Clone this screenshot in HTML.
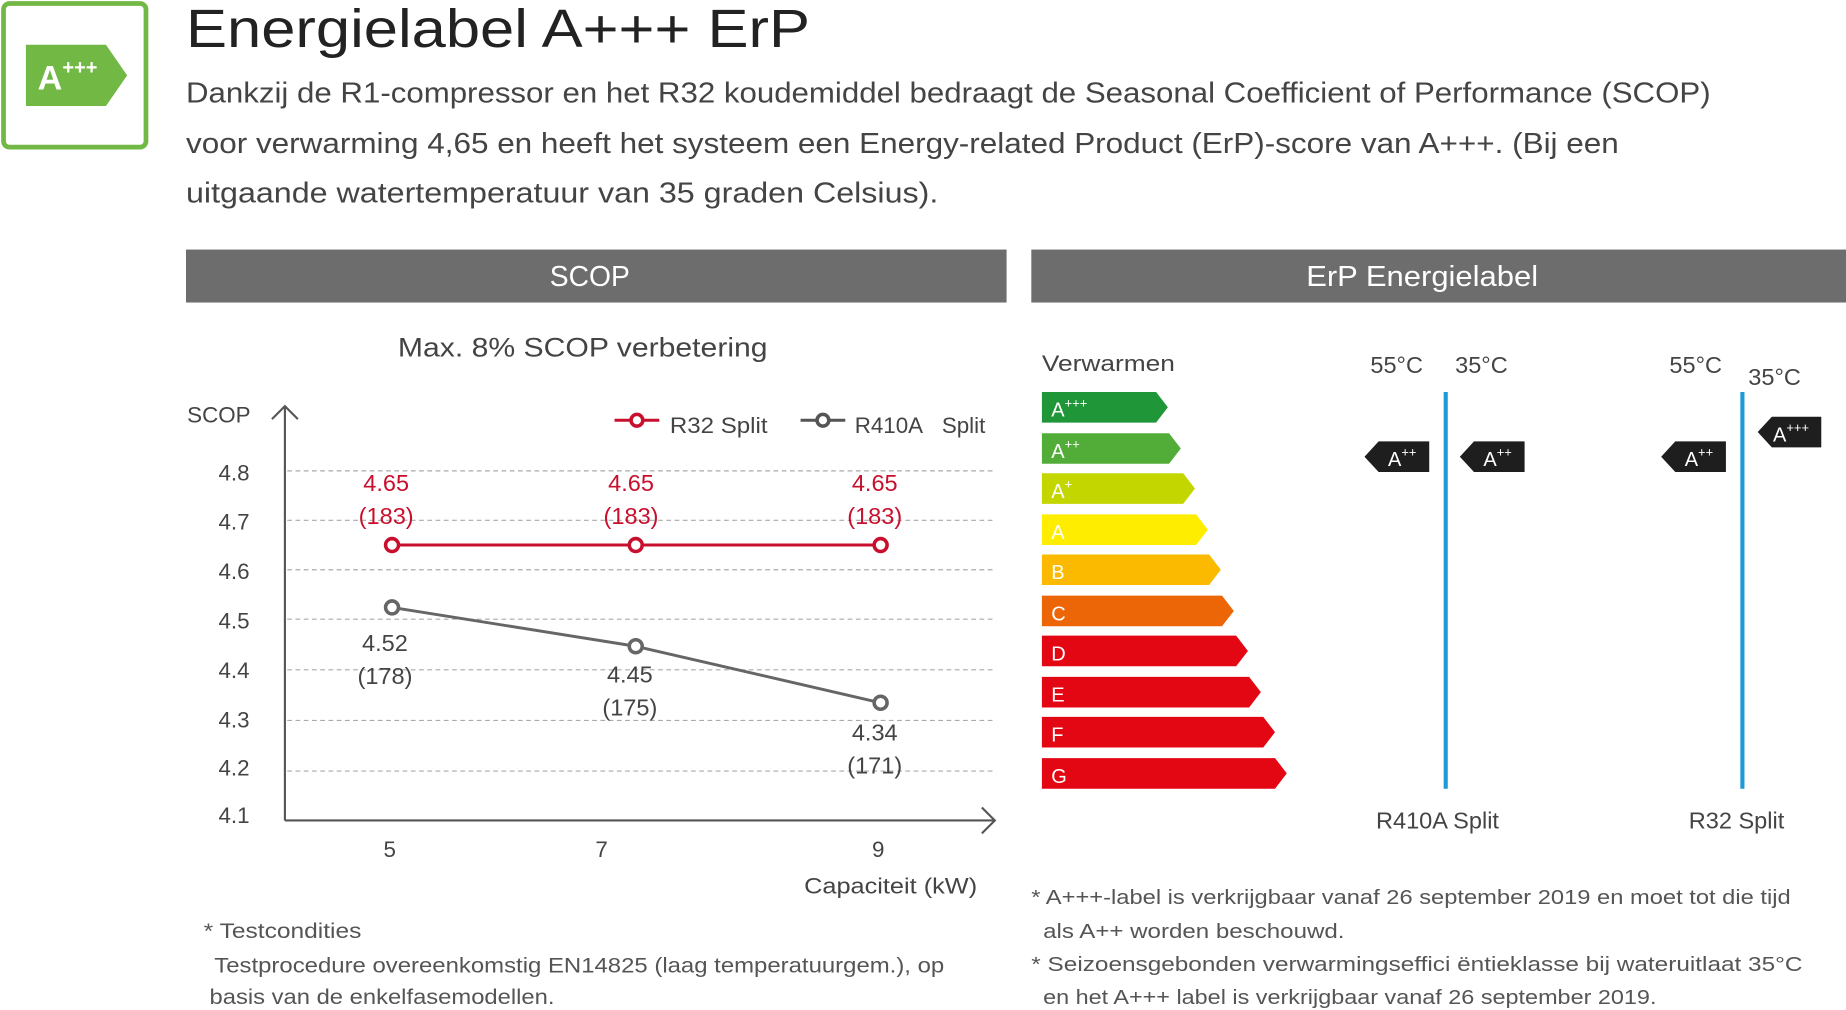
<!DOCTYPE html>
<html><head><meta charset="utf-8"><style>
html,body{margin:0;padding:0;background:#fff;width:1846px;height:1010px;overflow:hidden}
svg{display:block}
text{font-family:"Liberation Sans","DejaVu Sans",sans-serif}
</style></head><body>
<svg width="1846" height="1010" viewBox="0 0 1568 858" preserveAspectRatio="none" xmlns="http://www.w3.org/2000/svg">
<rect x="3" y="3" width="121" height="122" rx="5" fill="none" stroke="#72b844" stroke-width="4"/>
<polygon points="22,38 90,38 108,64 90,90 22,90" fill="#72b844"/>
<text x="32" y="76" fill="#fff" font-size="29" font-weight="bold">A</text>
<text x="53" y="63" fill="#fff" font-size="17" font-weight="bold">+++</text>
<text x="158" y="40" fill="#222" font-size="46" textLength="530" lengthAdjust="spacingAndGlyphs">Energielabel A+++ ErP</text>
<g fill="#444" font-size="24.5">
<text x="158" y="87" textLength="1295" lengthAdjust="spacingAndGlyphs">Dankzij de R1-compressor en het R32 koudemiddel bedraagt de Seasonal Coefficient of Performance (SCOP)</text>
<text x="158" y="130" textLength="1217" lengthAdjust="spacingAndGlyphs">voor verwarming 4,65 en heeft het systeem een Energy-related Product (ErP)-score van A+++. (Bij een</text>
<text x="158" y="172" textLength="639" lengthAdjust="spacingAndGlyphs">uitgaande watertemperatuur van 35 graden Celsius).</text>
</g>
<rect x="158" y="212" width="697" height="45" fill="#6d6d6d"/>
<rect x="876" y="212" width="692" height="45" fill="#6d6d6d"/>
<text x="501" y="243" fill="#fff" font-size="24" text-anchor="middle">SCOP</text>
<text x="1208" y="243" fill="#fff" font-size="24" text-anchor="middle" textLength="197" lengthAdjust="spacingAndGlyphs">ErP Energielabel</text>
<text x="338" y="303" fill="#444" font-size="23" textLength="314" lengthAdjust="spacingAndGlyphs">Max. 8% SCOP verbetering</text>
<text x="159" y="359" fill="#444" font-size="19">SCOP</text>
<g stroke="#aaa" stroke-dasharray="4,3" stroke-width="1">
<line x1="244" y1="400" x2="845" y2="400"/><line x1="244" y1="442" x2="845" y2="442"/>
<line x1="244" y1="484" x2="845" y2="484"/><line x1="244" y1="526" x2="845" y2="526"/>
<line x1="244" y1="569" x2="845" y2="569"/><line x1="244" y1="612" x2="845" y2="612"/>
<line x1="244" y1="655" x2="845" y2="655"/>
</g>
<g stroke="#555" stroke-width="1.8" fill="none">
<polyline points="242,697 242,345"/><polyline points="231,356 242,345 253,356"/>
<polyline points="242,697 845,697"/><polyline points="834,686 845,697 834,708"/>
</g>
<g fill="#444" font-size="19" text-anchor="end">
<text x="212" y="408">4.8</text><text x="212" y="450">4.7</text><text x="212" y="492">4.6</text>
<text x="212" y="534">4.5</text><text x="212" y="576">4.4</text><text x="212" y="618">4.3</text>
<text x="212" y="659">4.2</text><text x="212" y="699">4.1</text>
</g>
<g fill="#444" font-size="19" text-anchor="middle">
<text x="331" y="728">5</text><text x="511" y="728">7</text><text x="746" y="728">9</text>
</g>
<text x="683" y="759" fill="#444" font-size="19" textLength="147" lengthAdjust="spacingAndGlyphs">Capaciteit (kW)</text>
<line x1="522" y1="357" x2="560" y2="357" stroke="#c8102e" stroke-width="2.5"/>
<circle cx="541" cy="357" r="5" fill="#fff" stroke="#c8102e" stroke-width="3"/>
<text x="569" y="368" fill="#444" font-size="19" textLength="83" lengthAdjust="spacingAndGlyphs">R32 Split</text>
<line x1="680" y1="357" x2="718" y2="357" stroke="#555" stroke-width="2.5"/>
<circle cx="699" cy="357" r="5" fill="#fff" stroke="#555" stroke-width="3"/>
<text x="726" y="368" fill="#444" font-size="19">R410A</text>
<text x="800" y="368" fill="#444" font-size="19">Split</text>
<polyline points="333,463 540,463 748,463" fill="none" stroke="#c8102e" stroke-width="2.5"/>
<polyline points="333,516 540,549 748,597" fill="none" stroke="#666" stroke-width="2.5"/>
<g fill="#fff" stroke-width="3">
<circle cx="333" cy="463" r="5.5" stroke="#c8102e"/><circle cx="540" cy="463" r="5.5" stroke="#c8102e"/><circle cx="748" cy="463" r="5.5" stroke="#c8102e"/>
<circle cx="333" cy="516" r="5.5" stroke="#666"/><circle cx="540" cy="549" r="5.5" stroke="#666"/><circle cx="748" cy="597" r="5.5" stroke="#666"/>
</g>
<g fill="#c8102e" font-size="20" text-anchor="middle">
<text x="328" y="417">4.65</text><text x="328" y="445">(183)</text>
<text x="536" y="417">4.65</text><text x="536" y="445">(183)</text>
<text x="743" y="417">4.65</text><text x="743" y="445">(183)</text>
</g>
<g fill="#444" font-size="20" text-anchor="middle">
<text x="327" y="553">4.52</text><text x="327" y="581">(178)</text>
<text x="535" y="580">4.45</text><text x="535" y="608">(175)</text>
<text x="743" y="629">4.34</text><text x="743" y="657">(171)</text>
</g>
<g fill="#555" font-size="18">
<text x="173" y="797" textLength="134" lengthAdjust="spacingAndGlyphs">* Testcondities</text>
<text x="182" y="826" textLength="620" lengthAdjust="spacingAndGlyphs">Testprocedure overeenkomstig EN14825 (laag temperatuurgem.), op</text>
<text x="178" y="853" textLength="293" lengthAdjust="spacingAndGlyphs">basis van de enkelfasemodellen.</text>
</g>
<text x="885" y="315" fill="#444" font-size="19" textLength="113" lengthAdjust="spacingAndGlyphs">Verwarmen</text>
<g>
<polygon points="885,333 982,333 992,346 982,359 885,359" fill="#1f9638"/>
<polygon points="885,368 993,368 1003,381 993,394 885,394" fill="#52ad38"/>
<polygon points="885,402 1005,402 1015,415 1005,428 885,428" fill="#c4d600"/>
<polygon points="885,437 1016,437 1026,450 1016,463 885,463" fill="#ffed00"/>
<polygon points="885,471 1027,471 1037,484 1027,497 885,497" fill="#fbba00"/>
<polygon points="885,506 1038,506 1048,519 1038,532 885,532" fill="#ec6608"/>
<polygon points="885,540 1050,540 1060,553 1050,566 885,566" fill="#e30613"/>
<polygon points="885,575 1061,575 1071,588 1061,601 885,601" fill="#e30613"/>
<polygon points="885,609 1073,609 1083,622 1073,635 885,635" fill="#e30613"/>
<polygon points="885,644 1083,644 1093,657 1083,670 885,670" fill="#e30613"/>
</g>
<g fill="#fff" font-size="17">
<text x="893" y="354">A<tspan font-size="11" dy="-8">+++</tspan></text>
<text x="893" y="389">A<tspan font-size="11" dy="-8">++</tspan></text>
<text x="893" y="423">A<tspan font-size="11" dy="-8">+</tspan></text>
<text x="893" y="458">A</text><text x="893" y="492">B</text><text x="893" y="527">C</text>
<text x="893" y="561">D</text><text x="893" y="596">E</text><text x="893" y="630">F</text><text x="893" y="665">G</text>
</g>
<g fill="#444" font-size="20">
<text x="1164" y="317">55°C</text><text x="1236" y="317">35°C</text>
<text x="1418" y="317">55°C</text><text x="1485" y="327">35°C</text>
<text x="1221" y="704" text-anchor="middle">R410A Split</text>
<text x="1475" y="704" text-anchor="middle">R32 Split</text>
</g>
<line x1="1228" y1="333" x2="1228" y2="670" stroke="#1e9ad6" stroke-width="3.5"/>
<line x1="1480" y1="333" x2="1480" y2="670" stroke="#1e9ad6" stroke-width="3.5"/>
<g fill="#1e1e1e">
<polygon points="1159,388 1171,375 1214,375 1214,401 1171,401"/>
<polygon points="1240,388 1252,375 1295,375 1295,401 1252,401"/>
<polygon points="1411,388 1423,375 1466,375 1466,401 1423,401"/>
<polygon points="1493,367 1505,354 1547,354 1547,380 1505,380"/>
</g>
<g fill="#fff" font-size="17">
<text x="1179" y="396">A<tspan font-size="11" dy="-8">++</tspan></text>
<text x="1260" y="396">A<tspan font-size="11" dy="-8">++</tspan></text>
<text x="1431" y="396">A<tspan font-size="11" dy="-8">++</tspan></text>
<text x="1506" y="375">A<tspan font-size="11" dy="-8">+++</tspan></text>
</g>
<g fill="#555" font-size="17.5">
<text x="876" y="768" textLength="645" lengthAdjust="spacingAndGlyphs">* A+++-label is verkrijgbaar vanaf 26 september 2019 en moet tot die tijd</text>
<text x="886" y="797" textLength="256" lengthAdjust="spacingAndGlyphs">als A++ worden beschouwd.</text>
<text x="876" y="825" textLength="655" lengthAdjust="spacingAndGlyphs">* Seizoensgebonden verwarmingseffici   ëntieklasse bij wateruitlaat 35°C</text>
<text x="886" y="853" textLength="521" lengthAdjust="spacingAndGlyphs">en het A+++ label is verkrijgbaar vanaf 26 september 2019.</text>
</g>
</svg>
</body></html>
